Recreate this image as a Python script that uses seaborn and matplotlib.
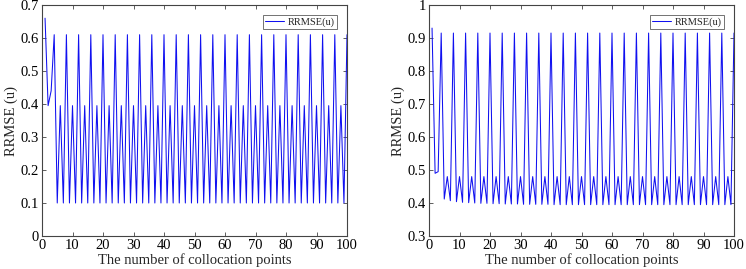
import matplotlib
matplotlib.use("Agg")
import matplotlib.pyplot as plt
import pandas as pd
import seaborn as sns
from matplotlib.ticker import FuncFormatter

# number of collocation points
points = list(range(1, 101))

# RRMSE(u), left panel
rrmse_left = [
    0.660, 0.395, 0.440, 0.610,
    0.100, 0.395, 0.100, 0.610,  0.100, 0.395, 0.100, 0.610,
    0.100, 0.395, 0.100, 0.610,  0.100, 0.395, 0.100, 0.610,
    0.100, 0.395, 0.100, 0.610,  0.100, 0.395, 0.100, 0.610,
    0.100, 0.395, 0.100, 0.610,  0.100, 0.395, 0.100, 0.610,
    0.100, 0.395, 0.100, 0.610,  0.100, 0.395, 0.100, 0.610,
    0.100, 0.395, 0.100, 0.610,  0.100, 0.395, 0.100, 0.610,
    0.100, 0.395, 0.100, 0.610,  0.100, 0.395, 0.100, 0.610,
    0.100, 0.395, 0.100, 0.610,  0.100, 0.395, 0.100, 0.610,
    0.100, 0.395, 0.100, 0.610,  0.100, 0.395, 0.100, 0.610,
    0.100, 0.395, 0.100, 0.610,  0.100, 0.395, 0.100, 0.610,
    0.100, 0.395, 0.100, 0.610,  0.100, 0.395, 0.100, 0.610,
    0.100, 0.395, 0.100, 0.610,  0.100, 0.395, 0.100, 0.610,
]

# RRMSE(u), right panel
rrmse_right = [
    0.930, 0.490, 0.495, 0.915,
    0.412, 0.480, 0.407, 0.915,  0.404, 0.480, 0.402, 0.915,
    0.401, 0.480, 0.400, 0.915,  0.399, 0.480, 0.399, 0.915,
    0.398, 0.480, 0.398, 0.915,  0.397, 0.480, 0.397, 0.915,
    0.397, 0.480, 0.396, 0.915,  0.396, 0.480, 0.396, 0.915,
    0.396, 0.480, 0.396, 0.915,  0.395, 0.480, 0.395, 0.915,
    0.395, 0.480, 0.395, 0.915,  0.395, 0.480, 0.395, 0.915,
    0.395, 0.480, 0.395, 0.915,  0.395, 0.480, 0.395, 0.915,
    0.395, 0.480, 0.395, 0.915,  0.395, 0.480, 0.395, 0.915,
    0.395, 0.480, 0.395, 0.915,  0.395, 0.480, 0.395, 0.915,
    0.395, 0.480, 0.395, 0.915,  0.395, 0.480, 0.395, 0.915,
    0.395, 0.480, 0.395, 0.915,  0.395, 0.480, 0.395, 0.915,
    0.395, 0.480, 0.395, 0.915,  0.395, 0.480, 0.395, 0.915,
]

x_ticks = list(range(0, 101, 10))
y_ticks_left = [0, 0.1, 0.2, 0.3, 0.4, 0.5, 0.6, 0.7]
y_ticks_right = [0.3, 0.4, 0.5, 0.6, 0.7, 0.8, 0.9, 1.0]

sns.set_theme(style="ticks")
plt.rcParams["font.family"] = ["Liberation Serif", "DejaVu Serif"]
plt.rcParams["axes.edgecolor"] = "#444444"
plt.rcParams["xtick.color"] = "#444444"
plt.rcParams["ytick.color"] = "#444444"
plt.rcParams["xtick.labelcolor"] = "black"
plt.rcParams["ytick.labelcolor"] = "black"

fig = plt.figure(figsize=(7.46, 2.69), dpi=100)
ax_l = fig.add_axes([42 / 746, 33 / 269, 305 / 746, 231 / 269])
ax_r = fig.add_axes([429 / 746, 33 / 269, 305 / 746, 231 / 269])

panels = [
    (ax_l, rrmse_left, y_ticks_left),
    (ax_r, rrmse_right, y_ticks_right),
]

for ax, vals, yt in panels:
    df = pd.DataFrame({"x": points, "y": vals})
    sns.lineplot(data=df, x="x", y="y", ax=ax, color="#1010f0",
                 linewidth=0.75, label="RRMSE(u)")
    ax.set_xlim(0, 100)
    ax.set_ylim(yt[0], yt[-1])
    ax.set_xticks(x_ticks)
    ax.set_yticks(yt)
    ax.yaxis.set_major_formatter(FuncFormatter(lambda v, _: f"{v:g}"))
    ax.tick_params(direction="in", length=3, width=0.6, labelsize=10.5,
                   top=True, right=True, pad=2)
    for s in ax.spines.values():
        s.set_linewidth(0.8)
    ax.set_xlabel("The number of collocation points", fontsize=10.5, labelpad=1)
    ax.set_ylabel("RRMSE (u)", fontsize=10.5, labelpad=2)
    leg = ax.legend(loc="upper right", fontsize=7.5, frameon=True, fancybox=False,
                    handlelength=1.9, borderpad=0.2, borderaxespad=1.0,
                    handletextpad=0.3)
    leg.get_frame().set_edgecolor("#333333")
    leg.get_frame().set_linewidth(0.6)

fig.savefig("out.png", dpi=100)
